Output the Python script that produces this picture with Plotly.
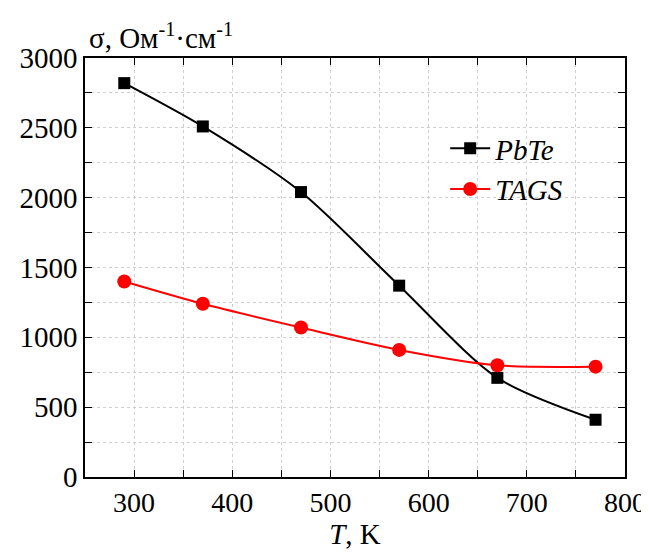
import plotly.graph_objects as go

T = [290, 370, 470, 570, 670, 770]
pbte = [2820, 2510, 2040, 1370, 710, 410]
tags = [1400, 1240, 1070, 910, 800, 790]

font_fam = "Liberation Serif"
fs = 29

fig = go.Figure()
fig.add_trace(go.Scatter(x=T, y=pbte, mode="lines+markers", name="<i>PbTe</i>",
                         line=dict(color="black", width=2, shape="spline", smoothing=0.8),
                         marker=dict(symbol="square", size=12, color="black")))
fig.add_trace(go.Scatter(x=T, y=tags, mode="lines+markers", name="<i>TAGS</i>",
                         line=dict(color="#ff0000", width=2, shape="spline", smoothing=0.8),
                         marker=dict(symbol="circle", size=14, color="#ff0000")))

axis_common = dict(showline=True, linecolor="black", linewidth=1.5, mirror="ticks",
                   ticks="inside", ticklen=7, tickwidth=1.2, tickcolor="black",
                   gridcolor="#cfcfcf", griddash="dot", gridwidth=1, zeroline=False,
                   automargin=False, ticklabeloverflow="allow")

fig.update_xaxes(range=[250, 800], dtick=100, tick0=300,
                 minor=dict(dtick=50, ticks="inside", ticklen=7, tickcolor="black",
                            showgrid=True, gridcolor="#cfcfcf", griddash="dot"),
                 tickfont=dict(family=font_fam, size=28, color="black"),
                 title=dict(text="<i>T</i>, K", font=dict(family=font_fam, size=fs, color="black"),
                            standoff=0),
                 **axis_common)
fig.update_yaxes(range=[0, 3000], dtick=500,
                 minor=dict(dtick=250, ticks="inside", ticklen=7, tickcolor="black",
                            showgrid=True, gridcolor="#cfcfcf", griddash="dot"),
                 tickfont=dict(family=font_fam, size=fs, color="black"),
                 **axis_common)

fig.add_annotation(text="σ, Ом<sup>-1</sup>·см<sup>-1</sup>", xref="paper", yref="paper",
                   x=0.0, y=1.0, xanchor="left", yanchor="bottom", xshift=2, yshift=2,
                   showarrow=False, font=dict(family=font_fam, size=fs, color="black"))

fig.update_layout(width=641, height=547, margin=dict(l=77, r=24, t=50, b=78),
                  plot_bgcolor="white", paper_bgcolor="white",
                  showlegend=True,
                  legend=dict(x=0.667, y=0.845, xanchor="left", yanchor="top",
                              bgcolor="rgba(0,0,0,0)",
                              font=dict(family=font_fam, size=fs, color="black"),
                              itemwidth=40, tracegroupgap=0))

fig.write_html("out.html")
